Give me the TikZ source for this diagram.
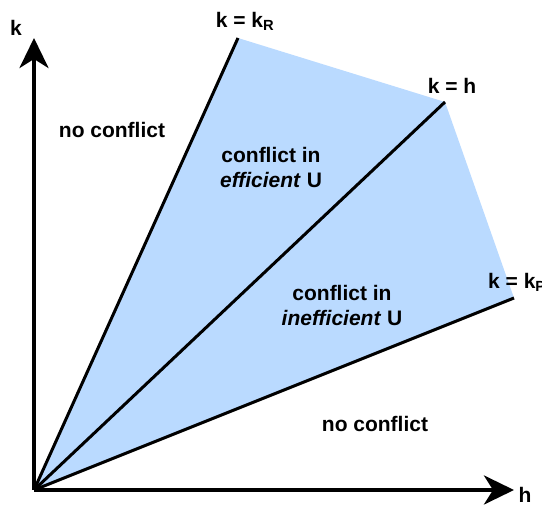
\documentclass[tikz,border=0pt]{standalone}
\usepackage{fontspec}
\setmainfont{Liberation Sans}
\usetikzlibrary{arrows.meta}
\definecolor{regionblue}{RGB}{186,218,255}
\tikzset{
  lbl/.style={font=\fontsize{21}{25}\selectfont\bfseries, align=center, inner sep=0pt},
  ray/.style={line width=3pt},
  axis/.style={line width=4pt, -{Stealth[length=30pt,width=29pt,inset=9pt]}},
}
\begin{document}
\begin{tikzpicture}[x=1pt,y=-1pt]
\useasboundingbox (0,0) rectangle (542,505);
\coordinate (O) at (34,490);
\coordinate (R) at (238,38);
\coordinate (H) at (445,102);
\coordinate (P) at (514,298);
\coordinate (Ytip) at (34,38);
\coordinate (Xtip) at (514,490);
\fill[regionblue] (O) -- (R) -- (H) -- (P) -- cycle;
\draw[ray] (O) -- (R);
\draw[ray] (O) -- (H);
\draw[ray] (O) -- (P);
\draw[axis] (O) -- (Ytip);
\draw[axis] (O) -- (Xtip);
\node[lbl] (kR) at (245,21) {k = k\textsubscript{R}};
\node[lbl] (kH) at (452,86) {k = h};
\node[lbl, anchor=west] (kP) at (488,282) {k = k\textsubscript{P}};
\node[lbl] (k) at (16,28) {k};
\node[lbl] (h) at (525,495) {h};
\node[lbl] (nc1) at (112,130) {no conflict};
\node[lbl] (ce) at (271,167) {conflict in\\\textit{efficient} U};
\node[lbl] (ci) at (342,305) {conflict in\\\textit{inefficient} U};
\node[lbl] (nc2) at (375,424) {no conflict};
\end{tikzpicture}
\end{document}
